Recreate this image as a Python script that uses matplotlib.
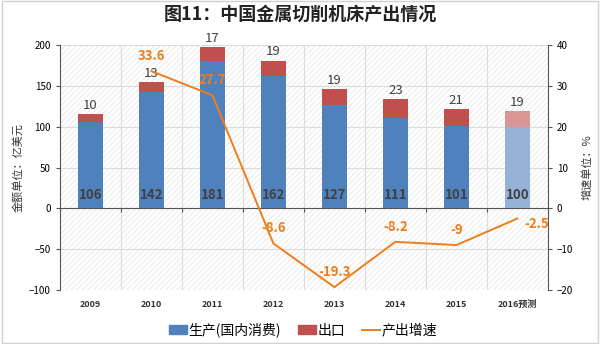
import numpy as np
import matplotlib
matplotlib.use("Agg")
import matplotlib.pyplot as plt
from matplotlib.patches import Patch, Rectangle
from matplotlib.lines import Line2D
import matplotlib.transforms as mtransforms

plt.rcParams["font.family"] = ["Noto Sans CJK SC", "DejaVu Sans"]
plt.rcParams["hatch.linewidth"] = 0.6

# ── Data ───────────────────────────────────────────────────────────────────
years      = ["2009", "2010", "2011", "2012", "2013", "2014", "2015", "2016预测"]
production = [106, 142, 181, 162, 127, 111, 101, 100]
export     = [10, 13, 17, 19, 19, 23, 21, 19]
growth_x   = ["2010", "2011", "2012", "2013", "2014", "2015", "2016预测"]
growth     = [33.6, 27.7, -8.6, -19.3, -8.2, -9, -2.5]

BLUE, RED = "#4F81BD", "#C0504D"
BLUE_F, RED_F = "#95B3D7", "#D99694"
ORANGE = "#F07D1A"
DARK = "#404040"

x = np.arange(len(years))
gx = np.array([years.index(g) for g in growth_x])

# ── Figure ─────────────────────────────────────────────────────────────────
fig = plt.figure(figsize=(6, 3.44), dpi=100)
fig.patches.append(Rectangle((0.003, 0.004), 0.994, 0.992, transform=fig.transFigure,
                             fill=False, edgecolor="#d0d0d0", lw=1))
ax = fig.add_axes([0.1, 0.157, 0.813, 0.712])
ax.set_facecolor("white")
ax.patch.set_hatch("//////")
ax.patch.set_edgecolor("#e8e8e8")

fig.suptitle("图11：中国金属切削机床产出情况", x=0.5, y=0.985, fontsize=13,
             fontweight="bold", color="#222222")

# bars
prod_colors = [BLUE] * (len(years) - 1) + [BLUE_F]
exp_colors = [RED] * (len(years) - 1) + [RED_F]
ax.bar(x, production, width=0.4, color=prod_colors, zorder=3)
ax.bar(x, export, width=0.4, bottom=production, color=exp_colors, zorder=3)

for xi, p, e in zip(x, production, export):
    ax.text(xi, 16, str(p), ha="center", va="center", fontsize=9.5,
            fontweight="bold", color=DARK, zorder=5)
    ax.annotate(str(e), (xi, p + e), xytext=(0, 1.5), textcoords="offset points",
                ha="center", va="bottom", fontsize=9.5, color=DARK, zorder=5)

ax.set_xlim(-0.5, len(years) - 0.5)
ax.set_ylim(-100, 200)
ax.set_yticks(np.arange(-100, 201, 50))
ax.tick_params(axis="y", labelsize=7, length=3, color="#555555")
ax.set_xticks(np.arange(-0.5, len(years), 1))
ax.tick_params(axis="x", length=3, color="#555555", labelbottom=False)
ax.spines["bottom"].set_position(("data", 0))
ax.spines["bottom"].set_color("#555555")
ax.spines["top"].set_visible(False)
ax.spines["right"].set_visible(False)
ax.spines["left"].set_color("#555555")
ax.grid(True, color="#dcdcdc", lw=0.8, zorder=0)
ax.set_axisbelow(True)
ax.set_ylabel("金额单位：亿美元", fontsize=8, color="#333333", labelpad=4)

trans = mtransforms.blended_transform_factory(ax.transData, ax.transAxes)
for xi, lab in zip(x, years):
    ax.text(xi, -0.058, lab, transform=trans, ha="center", va="center",
            fontsize=6.5, fontweight="bold", color="#333333")

# growth line on the right axis
ax2 = ax.twinx()
ax2.plot(gx, growth, color=ORANGE, lw=1.4, zorder=6)
ax2.set_ylim(-20, 40)
ax2.set_yticks(np.arange(-20, 41, 10))
ax2.tick_params(axis="y", labelsize=7, length=3, color="#555555")
for s in ["top", "bottom", "left"]:
    ax2.spines[s].set_visible(False)
ax2.spines["right"].set_color("#555555")
ax2.set_ylabel("增速单位：%", fontsize=8, color="#333333", rotation=90, labelpad=6)

for i, (xi, g) in enumerate(zip(gx, growth)):
    if i == len(growth) - 1:
        ax2.annotate(f"{g:g}", (xi, g), xytext=(14, -4), textcoords="offset points",
                     ha="center", va="center", fontsize=9.5, fontweight="bold",
                     color=ORANGE, zorder=7)
    else:
        ax2.annotate(f"{g:g}", (xi, g), xytext=(0, 11), textcoords="offset points",
                     ha="center", va="center", fontsize=9.5, fontweight="bold",
                     color=ORANGE, zorder=7)

handles = [Patch(color=BLUE), Patch(color=RED), Line2D([], [], color=ORANGE, lw=1.4)]
labels = ["生产(国内消费)", "出口", "产出增速"]
fig.legend(handles, labels, loc="center", bbox_to_anchor=(0.505, 0.04), ncol=3,
           frameon=False, fontsize=10, handlelength=1.3, handleheight=0.6,
           handletextpad=0.1, columnspacing=1.2)

fig.savefig("out.png", dpi=100)
